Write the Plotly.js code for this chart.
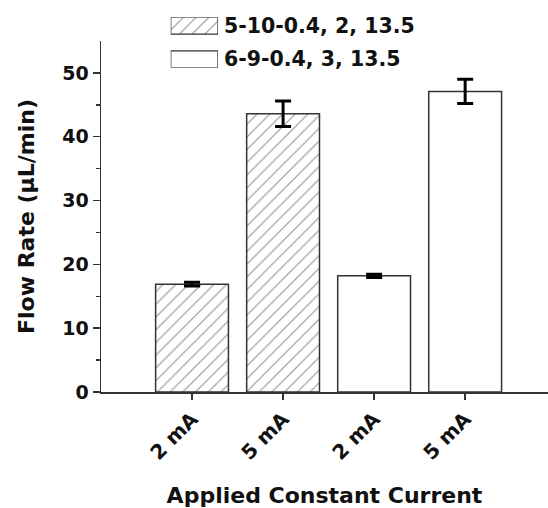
<!DOCTYPE html>
<html>
<head>
<meta charset="utf-8">
<script src="https://cdn.plot.ly/plotly-3.0.1.min.js"></script>
<style>html,body{margin:0;padding:0;background:#fff;}</style>
</head>
<body>
<div id="chart" style="width:548px;height:508px;"></div>
<script>
// ---- data ----
const tickPositions = [1, 2, 3, 4];
const tickLabels = ['2 mA', '5 mA', '2 mA', '5 mA'];
const seriesNames = ['5-10-0.4, 2, 13.5', '6-9-0.4, 3, 13.5'];
const hatchedX = [1, 2];
const hatchedY = [16.9, 43.6];
const hatchedErr = [0.3, 2.0];
const openX = [3, 4];
const openY = [18.2, 47.1];
const openErr = [0.25, 1.9];
const yTitle = 'Flow Rate (µL/min)';
const xTitle = 'Applied Constant Current';

const FONT = 'DejaVu Sans';
const axisColor = '#333';
const hatch = {shape: '/', size: 9, solidity: 0.12, fgcolor: '#222', bgcolor: '#fff', fillmode: 'overlay'};

const barCommon = {
  type: 'bar', width: 0.8,
  marker: {color: '#fff', line: {color: '#333', width: 1.5}},
  showlegend: false, hoverinfo: 'skip'
};

const traces = [
  Object.assign({}, barCommon, {
    x: hatchedX, y: hatchedY, name: seriesNames[0],
    marker: {color: '#fff', pattern: hatch, line: {color: '#333', width: 1.5}},
    error_y: {type: 'data', array: hatchedErr, visible: true, color: '#000', thickness: 3, width: 8}
  }),
  Object.assign({}, barCommon, {
    x: openX, y: openY, name: seriesNames[1],
    error_y: {type: 'data', array: openErr, visible: true, color: '#000', thickness: 3, width: 8}
  }),
  // legend swatches (drawn on a small auxiliary axis pair)
  {type: 'bar', orientation: 'h', x: [1], y: [1], width: 0.505, base: 0,
   xaxis: 'x2', yaxis: 'y2', showlegend: false, hoverinfo: 'skip',
   marker: {color: '#fff', pattern: hatch, line: {color: '#333', width: 1.3}}},
  {type: 'bar', orientation: 'h', x: [1], y: [0], width: 0.505, base: 0,
   xaxis: 'x2', yaxis: 'y2', showlegend: false, hoverinfo: 'skip',
   marker: {color: '#fff', line: {color: '#333', width: 1.3}}}
];

const layout = {
  width: 548, height: 508,
  margin: {l: 101, r: 0, t: 0, b: 116},
  paper_bgcolor: '#fff', plot_bgcolor: '#fff',
  barmode: 'overlay',
  showlegend: false,
  font: {family: FONT, color: '#111', weight: 'bold'},
  xaxis: {
    range: [0, 4.91], tickvals: tickPositions, ticktext: tickLabels,
    tickangle: -45, tickfont: {family: FONT, size: 20, weight: 'bold', color: '#111'},
    showline: true, linecolor: axisColor, linewidth: 1.5,
    ticks: 'outside', ticklen: 6, tickwidth: 1.5, tickcolor: axisColor,
    showgrid: false, zeroline: false,
    title: {text: xTitle, font: {family: FONT, size: 22, weight: 'bold', color: '#111'}, standoff: 25}
  },
  yaxis: {
    domain: [0, 351 / 392], range: [0, 55],
    tickvals: [0, 10, 20, 30, 40, 50],
    tickfont: {family: FONT, size: 19, weight: 'bold', color: '#111'},
    showline: true, linecolor: axisColor, linewidth: 1.5,
    ticks: 'outside', ticklen: 7, tickwidth: 1.5, tickcolor: axisColor,
    minor: {tickvals: [5, 15, 25, 35, 45], ticks: 'outside', ticklen: 4, tickwidth: 1.5, tickcolor: axisColor},
    showgrid: false, zeroline: false,
    title: {text: yTitle, font: {family: FONT, size: 22, weight: 'bold', color: '#111'}, standoff: 21}
  },
  xaxis2: {domain: [0.156, 0.2617], range: [0, 1], anchor: 'y2', visible: false, fixedrange: true},
  yaxis2: {domain: [0.8273, 0.9559], range: [-0.25, 1.25], anchor: 'x2', visible: false, fixedrange: true},
  annotations: [
    {xref: 'paper', yref: 'paper', x: 0.2707, y: 0.934, xanchor: 'left', yanchor: 'middle',
     text: seriesNames[0], showarrow: false, font: {family: FONT, size: 20.5, weight: 'bold', color: '#111'}},
    {xref: 'paper', yref: 'paper', x: 0.2707, y: 0.8487, xanchor: 'left', yanchor: 'middle',
     text: seriesNames[1], showarrow: false, font: {family: FONT, size: 20.5, weight: 'bold', color: '#111'}}
  ]
};

Plotly.newPlot('chart', traces, layout, {staticPlot: true, displayModeBar: false});
</script>
</body>
</html>
